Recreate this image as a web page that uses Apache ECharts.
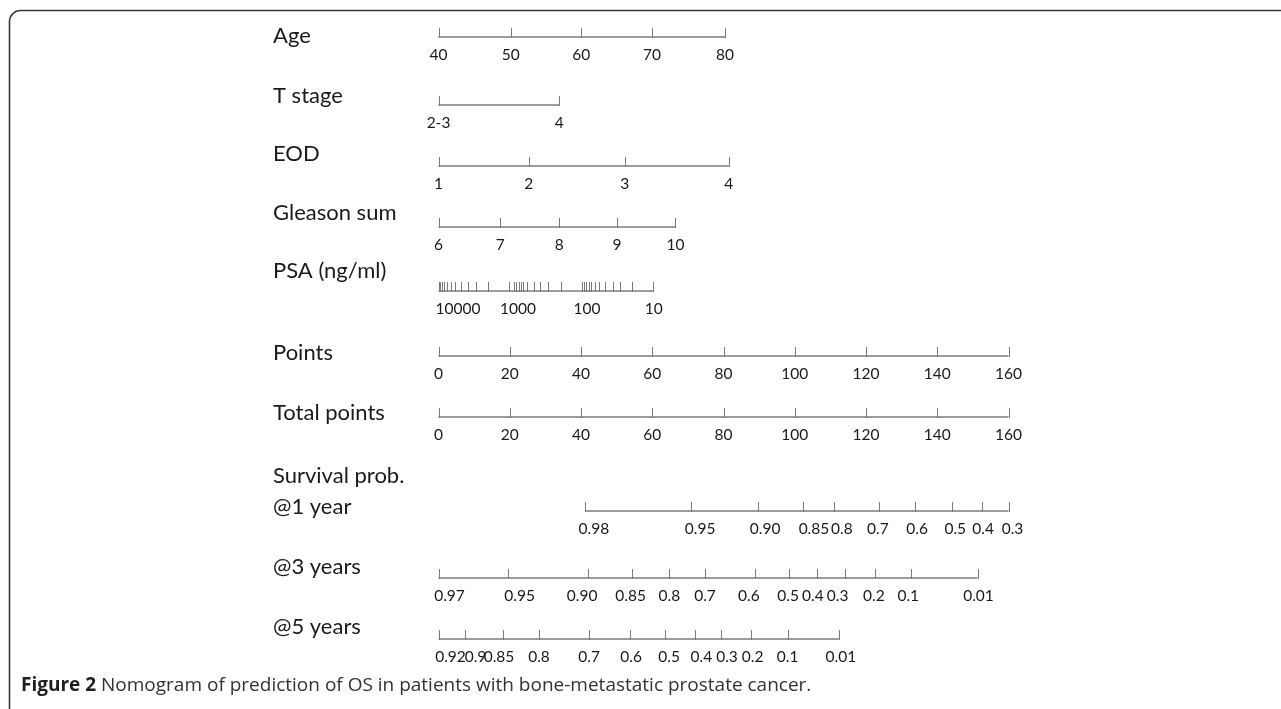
<!DOCTYPE html>
<html>
<head>
<meta charset="utf-8">
<script src="https://cdn.jsdelivr.net/npm/echarts@6/dist/echarts.min.js"></script>
<style>
html,body{margin:0;padding:0;background:#fff;}
#chart{width:1281px;height:709px;}
</style>
</head>
<body>
<div id="chart"></div>
<script>
// ---------- DATA (positions in "points") ----------
const rowNames = ['Age','T stage','EOD','Gleason sum','PSA (ng/ml)','Points','Total points','@1 year','@3 years','@5 years'];

const ageLabels = ['40','50','60','70','80'];
const agePts = [0, 20.3, 40.1, 59.9, 80.4];

const tstageLabels = ['2-3','4'];
const tstagePts = [0, 33.9];

const eodLabels = ['1','2','3','4'];
const eodPts = [0, 25.3, 52.3, 81.5];

const gleasonLabels = ['6','7','8','9','10'];
const gleasonPts = [0, 17.3, 33.9, 50.1, 66.5];

const psaTickPts = [0, 0.42, 1.04, 1.68, 2.44, 3.51, 4.72, 6.37, 8.28, 10.53, 13.98,
                    19.87, 21.19, 21.84, 22.48, 23.1, 23.8, 24.98, 26.67, 28.49, 30.82, 34.39,
                    40.36, 40.98, 41.54, 42.19, 42.81, 43.93, 45.14, 46.74, 48.98, 50.86, 54.32, 60.35];
const psaLabels = ['10000','1000','100','10'];
const psaLabelPts = [5.5, 22.3, 41.7, 60.4];

const pointsLabels = ['0','20','40','60','80','100','120','140','160'];
const pointsPts = [0, 20, 40, 60, 80, 100, 120, 140, 160];

const totalLabels = ['0','20','40','60','80','100','120','140','160'];
const totalPts = [0, 20, 40, 60, 80, 100, 120, 140, 160];

const surv1Labels = ['0.98','0.95','0.90','0.85','0.8','0.7','0.6','0.5','0.4','0.3'];
const surv1Pts = [41.1, 70.9, 89.7, 102.3, 111.0, 123.6, 133.8, 144.2, 152.6, 160];

const surv3Labels = ['0.97','0.95','0.90','0.85','0.8','0.7','0.6','0.5','0.4','0.3','0.2','0.1','0.01'];
const surv3Pts = [0, 19.4, 42.0, 54.2, 64.8, 74.8, 88.8, 98.4, 106.2, 114.0, 122.5, 132.7, 151.3];

const surv5Labels = ['0.92','0.9','0.85','0.8','0.7','0.6','0.5','0.4','0.3','0.2','0.1','0.01'];
const surv5Pts = [0, 7.3, 18.1, 28.2, 42.3, 53.8, 63.6, 72.1, 79.3, 87.6, 98.0, 112.4];

const captionBold = 'Figure 2';
const captionText = ' Nomogram of prediction of OS in patients with bone-metastatic prostate cancer.';
const survHeader = 'Survival prob.';

// ---------- LAYOUT ----------
const rowLineY = [37, 105, 166, 227, 291, 356, 417, 511, 578, 639];
const rowNameY = [36, 96, 154, 213, 271, 353, 413, 507, 567, 627];
const survHeaderY = 476;
const nameX = 273;
const tickLen = 9;
const labelDy = 18;
const lineColor = '#7a7a7a';
const textColor = '#1a1a1a';
const tickFont = '15.5px Lato';
const nameFont = '22px Lato';
// per-label horizontal nudges (px), as the labels sit in the reference
const noDx = [];
const surv1Dx = [9, 9, 7, 11, 8, -1, 2, 3, 1, 4];
const surv3Dx = [11, 12, -6, -1, 0, 0, -6, -1, -4, -7, -1, -3, 1];
const surv5Dx = [12, 11, -4, 0, 0, 1, 4, 6, 6, 2, 0, 2];

// rows: [tickPts, labels, labelPts, labelDx]
const rows = [
  [agePts, ageLabels, agePts, noDx],
  [tstagePts, tstageLabels, tstagePts, noDx],
  [eodPts, eodLabels, eodPts, noDx],
  [gleasonPts, gleasonLabels, gleasonPts, noDx],
  [psaTickPts, psaLabels, psaLabelPts, noDx],
  [pointsPts, pointsLabels, pointsPts, noDx],
  [totalPts, totalLabels, totalPts, noDx],
  [surv1Pts, surv1Labels, surv1Pts, surv1Dx],
  [surv3Pts, surv3Labels, surv3Pts, surv3Dx],
  [surv5Pts, surv5Labels, surv5Pts, surv5Dx]
];

const segData = [];
const tickData = [];
const labelData = [];
const labelTexts = [];
const labelShift = [];
rows.forEach((r, i) => {
  const [tp, lb, lp, dx] = r;
  segData.push([Math.min(...tp), Math.max(...tp), rowLineY[i]]);
  tp.forEach(p => tickData.push([p, rowLineY[i]]));
  lp.forEach((p, j) => {
    labelData.push([p, rowLineY[i]]);
    labelTexts.push(lb[j]);
    labelShift.push(dx[j] || 0);
  });
});

const chart = echarts.init(document.getElementById('chart'), null, {renderer: 'canvas'});

const graphics = [
  {type: 'rect', shape: {x: 9.5, y: 10.5, width: 1320, height: 760, r: 11},
   style: {fill: 'none', stroke: '#3a3a3a', lineWidth: 1.6}, silent: true, z: 0}
];
rowNames.forEach((n, i) => {
  graphics.push({type: 'text', x: nameX, y: rowNameY[i],
    style: {text: n, fill: textColor, font: nameFont, align: 'left', verticalAlign: 'middle'}});
});
graphics.push({type: 'text', x: nameX, y: survHeaderY,
  style: {text: survHeader, fill: textColor, font: nameFont, align: 'left', verticalAlign: 'middle'}});
graphics.push({type: 'text', x: 21, y: 686,
  style: {
    text: '{b|' + captionBold + '}{n|' + captionText + '}',
    verticalAlign: 'middle', align: 'left',
    rich: {
      b: {font: 'bold 19px "Open Sans"', fill: '#1f1f1f'},
      n: {font: '19px "Open Sans"', fill: '#333'}
    }
  }});

chart.setOption({
  animation: false,
  grid: {left: 438.5, right: 272.5, top: 0, bottom: 0, containLabel: false},
  xAxis: {type: 'value', min: 0, max: 160, show: false},
  yAxis: {type: 'value', min: 0, max: 709, inverse: true, show: false},
  graphic: graphics,
  series: [
    {
      type: 'custom', name: 'axes',
      data: segData,
      renderItem: function (params, api) {
        const a = api.coord([api.value(0), api.value(2)]);
        const b = api.coord([api.value(1), api.value(2)]);
        return {type: 'line', shape: {x1: a[0], y1: a[1], x2: b[0], y2: b[1]},
          style: {stroke: lineColor, lineWidth: 1.3}};
      }
    },
    {
      type: 'custom', name: 'ticks',
      data: tickData,
      renderItem: function (params, api) {
        const c = api.coord([api.value(0), api.value(1)]);
        const x = Math.round(c[0]) + 0.5;
        return {type: 'line', shape: {x1: x, y1: c[1] - tickLen, x2: x, y2: c[1] + 1},
          style: {stroke: lineColor, lineWidth: 1}};
      }
    },
    {
      type: 'custom', name: 'labels',
      data: labelData,
      renderItem: function (params, api) {
        const c = api.coord([api.value(0), api.value(1)]);
        return {type: 'text', x: c[0] + labelShift[params.dataIndex], y: c[1] + labelDy,
          style: {text: labelTexts[params.dataIndex], fill: textColor, font: tickFont,
                  align: 'center', verticalAlign: 'middle'}};
      }
    }
  ]
});
</script>
</body>
</html>
